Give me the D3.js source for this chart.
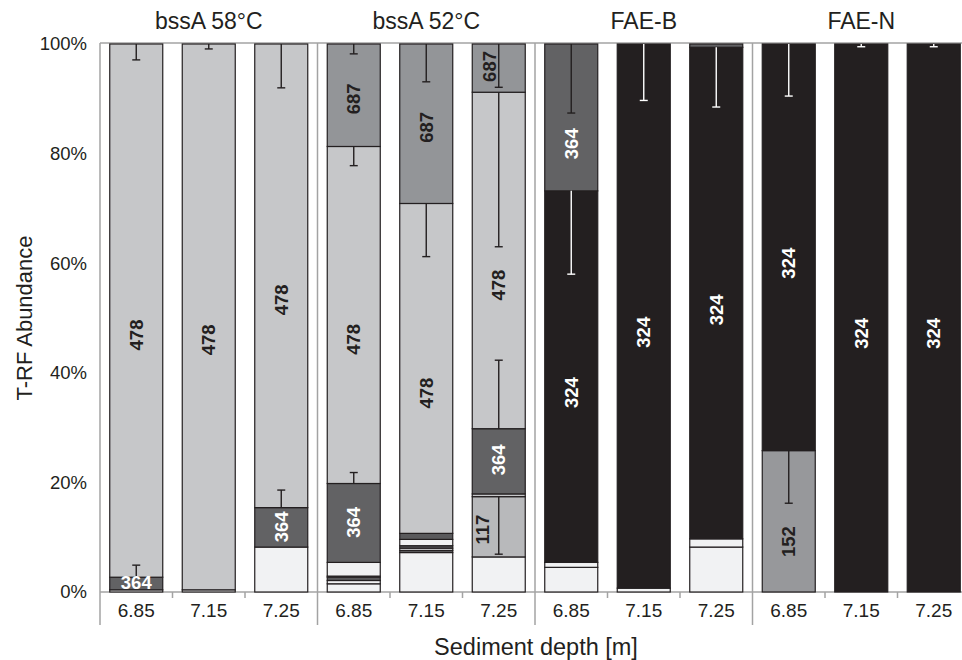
<!DOCTYPE html>
<html>
<head>
<meta charset="utf-8">
<script src="https://cdn.jsdelivr.net/npm/d3@7"></script>
<style>
  html, body { margin: 0; padding: 0; background: #fff; }
  svg { display: block; font-family: "Liberation Sans", Arial, sans-serif; }
</style>
</head>
<body>
<svg id="chart" width="962" height="660"></svg>
<script>
// ---------------- DATA ----------------
const groups = ["bssA 58°C", "bssA 52°C", "FAE-B", "FAE-N"];
const depths = ["6.85", "7.15", "7.25"];
const yTicks = [0, 20, 40, 60, 80, 100];

// T-RF segments per bar, bottom to top: [T-RF, abundance %]
const stacks = [
  [["other", 0.4], ["364", 2.3], ["478", 97.3]],
  [["other", 0.4], ["478", 99.6]],
  [["other", 8.2], ["364", 7.2], ["478", 84.6]],
  [["other", 1.5], ["other", 0.6], ["minor", 0.6], ["other", 0.2], ["other", 2.5], ["364", 14.4], ["478", 61.5], ["687", 18.7]],
  [["other", 7.2], ["minor", 0.4], ["other", 0.4], ["minor", 0.45], ["other", 1.15], ["minor", 1.1], ["478", 60.2], ["687", 29.1]],
  [["other", 6.4], ["117", 11.0], ["478b", 0.5], ["364", 11.9], ["478", 61.4], ["687", 8.8]],
  [["other", 4.5], ["other", 0.9], ["324", 67.8], ["364", 26.8]],
  [["other", 0.7], ["324", 99.3]],
  [["other", 8.2], ["other", 1.5], ["324", 89.7], ["364", 0.6]],
  [["152", 25.8], ["324", 74.2]],
  [["324", 100]],
  [["324", 100]]
];

// error bars: [bar index, T-RF, end value %] (drawn from the top of that segment)
const errors = [
  [0, "478", 97.1], [0, "364", 4.9],
  [1, "478", 99.1],
  [2, "478", 92.0], [2, "364", 18.6],
  [3, "687", 98.2], [3, "478", 77.8], [3, "364", 21.8],
  [4, "687", 93.1], [4, "478", 61.2],
  [5, "687", 92.1], [5, "478", 63.0], [5, "364", 42.3], [5, "117", 6.9],
  [6, "364", 87.4], [6, "324", 58.0],
  [7, "324", 89.7],
  [8, "324", 88.5],
  [9, "324", 90.5], [9, "152", 16.2],
  [10, "324", 99.5],
  [11, "324", 99.5]
];

// segment labels: [bar index, T-RF, value % at label centre, orientation]
const labels = [
  [0, "478", 46.9, "v"], [0, "364", 1.8, "h"],
  [1, "478", 46.0, "v"],
  [2, "478", 53.3, "v"], [2, "364", 11.9, "v"],
  [3, "687", 90.0, "v"], [3, "478", 46.1, "v"], [3, "364", 12.7, "v"],
  [4, "687", 84.8, "v"], [4, "478", 36.3, "v"],
  [5, "687", 95.9, "v"], [5, "478", 56.0, "v"], [5, "364", 24.1, "v"], [5, "117", 11.4, "v"],
  [6, "364", 81.8, "v"], [6, "324", 36.4, "v"],
  [7, "324", 47.4, "v"],
  [8, "324", 51.5, "v"],
  [9, "324", 60.0, "v"], [9, "152", 9.2, "v"],
  [10, "324", 47.2, "v"],
  [11, "324", 47.2, "v"]
];

// ---------------- STYLE ----------------
const fills = {
  "478": "#c6c7c9", "478b": "#c6c7c9", "364": "#626264", "687": "#939598",
  "324": "#231f20", "152": "#97989b", "117": "#b8b9bb",
  "other": "#f1f2f3", "minor": "#5a5a5c"
};
const labelShift = { "5-687": -9, "5-117": -16 }; // px, keeps labels clear of error bars
const darkText = "#231f20";
const labelColor = t => (t === "364" || t === "324") ? "#ffffff" : darkText;
const errColor = t => (t === "324") ? "#ffffff" : darkText;
const axisGray = "#a3a3a3";

// ---------------- LAYOUT ----------------
const svg = d3.select("#chart");
const pLeft = 100, pRight = 970, pTop = 44, pBottom = 592;
const categories = d3.range(groups.length * depths.length);

const x = d3.scaleBand().domain(categories).range([pLeft, pRight])
  .paddingInner(0.269).paddingOuter(0.1345);
const y = d3.scaleLinear().domain([0, 100]).range([pBottom, pTop]);
const step = x.step();

// frame lines
const frame = svg.append("g").attr("stroke", axisGray).attr("stroke-width", 1.5).attr("fill", "none");
frame.append("line").attr("x1", pLeft).attr("x2", 962).attr("y1", pTop - 1).attr("y2", pTop - 1);
frame.append("line").attr("x1", pLeft).attr("x2", 962).attr("y1", pBottom).attr("y2", pBottom);
d3.range(groups.length).forEach(g => {
  const gx = pLeft + g * depths.length * step;
  frame.append("line").attr("x1", gx).attr("x2", gx).attr("y1", pTop - 1).attr("y2", 625);
});
categories.forEach(i => {
  if (i % depths.length !== 0) {
    const tx = pLeft + i * step;
    frame.append("line").attr("x1", tx).attr("x2", tx).attr("y1", pBottom).attr("y2", pBottom + 6);
  }
});

// bars
const barG = svg.append("g");
const tops = [];
stacks.forEach((segs, i) => {
  const cum = d3.cumsum(segs.map(s => s[1]));
  const m = {};
  segs.forEach((s, j) => {
    const y0 = j === 0 ? 0 : cum[j - 1];
    const y1 = Math.min(cum[j], 100);
    m[s[0]] = y1;
    barG.append("rect")
      .attr("x", x(i)).attr("width", x.bandwidth())
      .attr("y", y(y1)).attr("height", Math.max(0, y(y0) - y(y1)))
      .attr("fill", fills[s[0]])
      .attr("stroke", "#231f20").attr("stroke-width", 1.2);
  });
  tops.push(m);
});

// error bars
const errG = svg.append("g").attr("stroke-width", 1.4);
errors.forEach(([i, t, end]) => {
  const from = tops[i][t];
  const cx = x(i) + x.bandwidth() / 2;
  const c = errColor(t);
  errG.append("line").attr("x1", cx).attr("x2", cx)
    .attr("y1", y(from)).attr("y2", y(end)).attr("stroke", c);
  errG.append("line").attr("x1", cx - 4).attr("x2", cx + 4)
    .attr("y1", y(end)).attr("y2", y(end)).attr("stroke", c);
});

// segment labels
const labG = svg.append("g").attr("font-weight", "bold").attr("font-size", 18.5);
labels.forEach(([i, t, v, o]) => {
  const cx = x(i) + x.bandwidth() / 2 + (labelShift[i + "-" + t] || 0);
  const cy = y(v);
  labG.append("text")
    .attr("transform", o === "v" ? `translate(${cx},${cy}) rotate(-90)` : `translate(${cx},${cy})`)
    .attr("text-anchor", "middle").attr("dy", "0.36em")
    .attr("fill", labelColor(t))
    .text(t);
});

// y axis
const yAxis = d3.axisLeft(y).tickValues(yTicks).tickSize(0).tickPadding(13)
  .tickFormat(d => d + "%");
const ya = svg.append("g").attr("transform", `translate(${pLeft},0)`).call(yAxis);
ya.select(".domain").remove();
ya.selectAll("text").attr("font-size", 18.5).attr("fill", darkText)
  .attr("font-family", "Liberation Sans, Arial, sans-serif");

// x axis (depth labels)
const xAxis = d3.axisBottom(x).tickSize(0).tickPadding(12)
  .tickFormat(i => depths[i % depths.length]);
const xa = svg.append("g").attr("transform", `translate(0,${pBottom})`).call(xAxis);
xa.select(".domain").remove();
xa.selectAll("text").attr("font-size", 19).attr("fill", darkText)
  .attr("font-family", "Liberation Sans, Arial, sans-serif");

// group titles
groups.forEach((g, k) => {
  const gx = pLeft + (k * depths.length + depths.length / 2) * step;
  svg.append("text").attr("x", gx).attr("y", 29)
    .attr("text-anchor", "middle").attr("font-size", 23).attr("fill", darkText)
    .text(g);
});

// axis titles
svg.append("text")
  .attr("transform", `translate(32,${(pTop + pBottom) / 2}) rotate(-90)`)
  .attr("text-anchor", "middle").attr("font-size", 22).attr("fill", darkText)
  .text("T-RF Abundance");
svg.append("text")
  .attr("x", 536).attr("y", 655)
  .attr("text-anchor", "middle").attr("font-size", 23.5).attr("fill", darkText)
  .text("Sediment depth [m]");
</script>
</body>
</html>
